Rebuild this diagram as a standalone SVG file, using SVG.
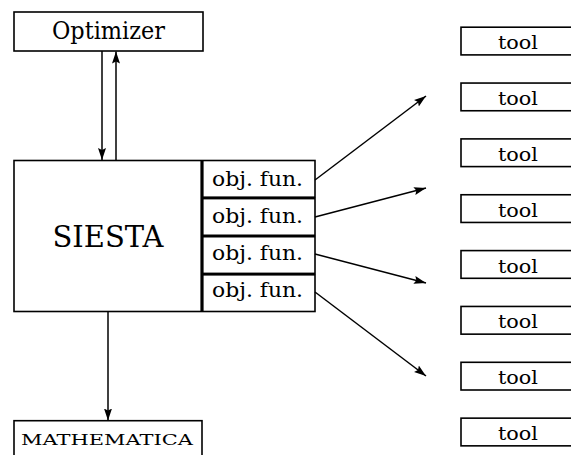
<svg xmlns="http://www.w3.org/2000/svg" width="571" height="455" viewBox="0 0 571 455">
<style>
.box{fill:#fff;stroke:#000;stroke-width:1.6}
.c{stroke:#000;stroke-width:1.5;fill:none}
.tx{font-family:'DejaVu Serif',serif;text-anchor:middle;fill:#000}
</style>
<defs>
<marker id="ah" markerUnits="userSpaceOnUse" markerWidth="13" markerHeight="10" refX="12" refY="5" orient="auto">
<path d="M0,1 L12,5 L0,9 L2,5 z" fill="#000"/>
</marker>
</defs>
<rect width="571" height="455" fill="#fff"/>
<g id="optimizer">
<rect class="box" x="14" y="12" width="189" height="39"/>
<text class="tx" x="108.5" y="39" font-size="24" textLength="113" lengthAdjust="spacingAndGlyphs">Optimizer</text>
</g>
<g id="siesta">
<rect class="box" x="14" y="160.5" width="187.2" height="151"/>
<text class="tx" x="108" y="247" font-size="29" textLength="111" lengthAdjust="spacingAndGlyphs">SIESTA</text>
</g>
<g id="objfun1">
<rect class="box" x="202.8" y="160.5" width="112.2" height="36.7"/>
<text class="tx" x="257.5" y="186" font-size="19.5" textLength="91" lengthAdjust="spacingAndGlyphs">obj. fun.</text>
</g>
<g id="objfun2">
<rect class="box" x="202.8" y="198.6" width="112.2" height="36.7"/>
<text class="tx" x="257.5" y="223" font-size="19.5" textLength="91" lengthAdjust="spacingAndGlyphs">obj. fun.</text>
</g>
<g id="objfun3">
<rect class="box" x="202.8" y="236.7" width="112.2" height="36.7"/>
<text class="tx" x="257.5" y="260" font-size="19.5" textLength="91" lengthAdjust="spacingAndGlyphs">obj. fun.</text>
</g>
<g id="objfun4">
<rect class="box" x="202.8" y="274.8" width="112.2" height="36.7"/>
<text class="tx" x="257.5" y="297" font-size="19.5" textLength="91" lengthAdjust="spacingAndGlyphs">obj. fun.</text>
</g>
<g id="mathematica">
<rect class="box" x="14" y="420.7" width="188" height="40"/>
<text class="tx" x="107" y="445" font-size="14.5" textLength="172" lengthAdjust="spacingAndGlyphs">MATHEMATICA</text>
</g>
<g id="tool1"><rect class="box" x="461" y="27.2" width="114" height="27.7"/><text class="tx" x="518" y="49.2" font-size="19" textLength="40" lengthAdjust="spacingAndGlyphs">tool</text></g>
<g id="tool2"><rect class="box" x="461" y="83.05" width="114" height="27.7"/><text class="tx" x="518" y="105.05" font-size="19" textLength="40" lengthAdjust="spacingAndGlyphs">tool</text></g>
<g id="tool3"><rect class="box" x="461" y="138.9" width="114" height="27.7"/><text class="tx" x="518" y="160.9" font-size="19" textLength="40" lengthAdjust="spacingAndGlyphs">tool</text></g>
<g id="tool4"><rect class="box" x="461" y="194.75" width="114" height="27.7"/><text class="tx" x="518" y="216.75" font-size="19" textLength="40" lengthAdjust="spacingAndGlyphs">tool</text></g>
<g id="tool5"><rect class="box" x="461" y="250.6" width="114" height="27.7"/><text class="tx" x="518" y="272.6" font-size="19" textLength="40" lengthAdjust="spacingAndGlyphs">tool</text></g>
<g id="tool6"><rect class="box" x="461" y="306.45" width="114" height="27.7"/><text class="tx" x="518" y="328.45" font-size="19" textLength="40" lengthAdjust="spacingAndGlyphs">tool</text></g>
<g id="tool7"><rect class="box" x="461" y="362.3" width="114" height="27.7"/><text class="tx" x="518" y="384.3" font-size="19" textLength="40" lengthAdjust="spacingAndGlyphs">tool</text></g>
<g id="tool8"><rect class="box" x="461" y="418.15" width="114" height="27.7"/><text class="tx" x="518" y="440.15" font-size="19" textLength="40" lengthAdjust="spacingAndGlyphs">tool</text></g>
<g id="connectors">
<line class="c" x1="102" y1="51" x2="102" y2="160" marker-end="url(#ah)"/>
<line class="c" x1="116" y1="160.5" x2="116" y2="51.5" marker-end="url(#ah)"/>
<line class="c" x1="108" y1="311.5" x2="108" y2="420.5" marker-end="url(#ah)"/>
<line class="c" x1="315" y1="180" x2="426" y2="96" marker-end="url(#ah)"/>
<line class="c" x1="315" y1="217" x2="426" y2="188" marker-end="url(#ah)"/>
<line class="c" x1="315" y1="254" x2="426" y2="283" marker-end="url(#ah)"/>
<line class="c" x1="315" y1="292" x2="426" y2="376" marker-end="url(#ah)"/>
</g>
</svg>
